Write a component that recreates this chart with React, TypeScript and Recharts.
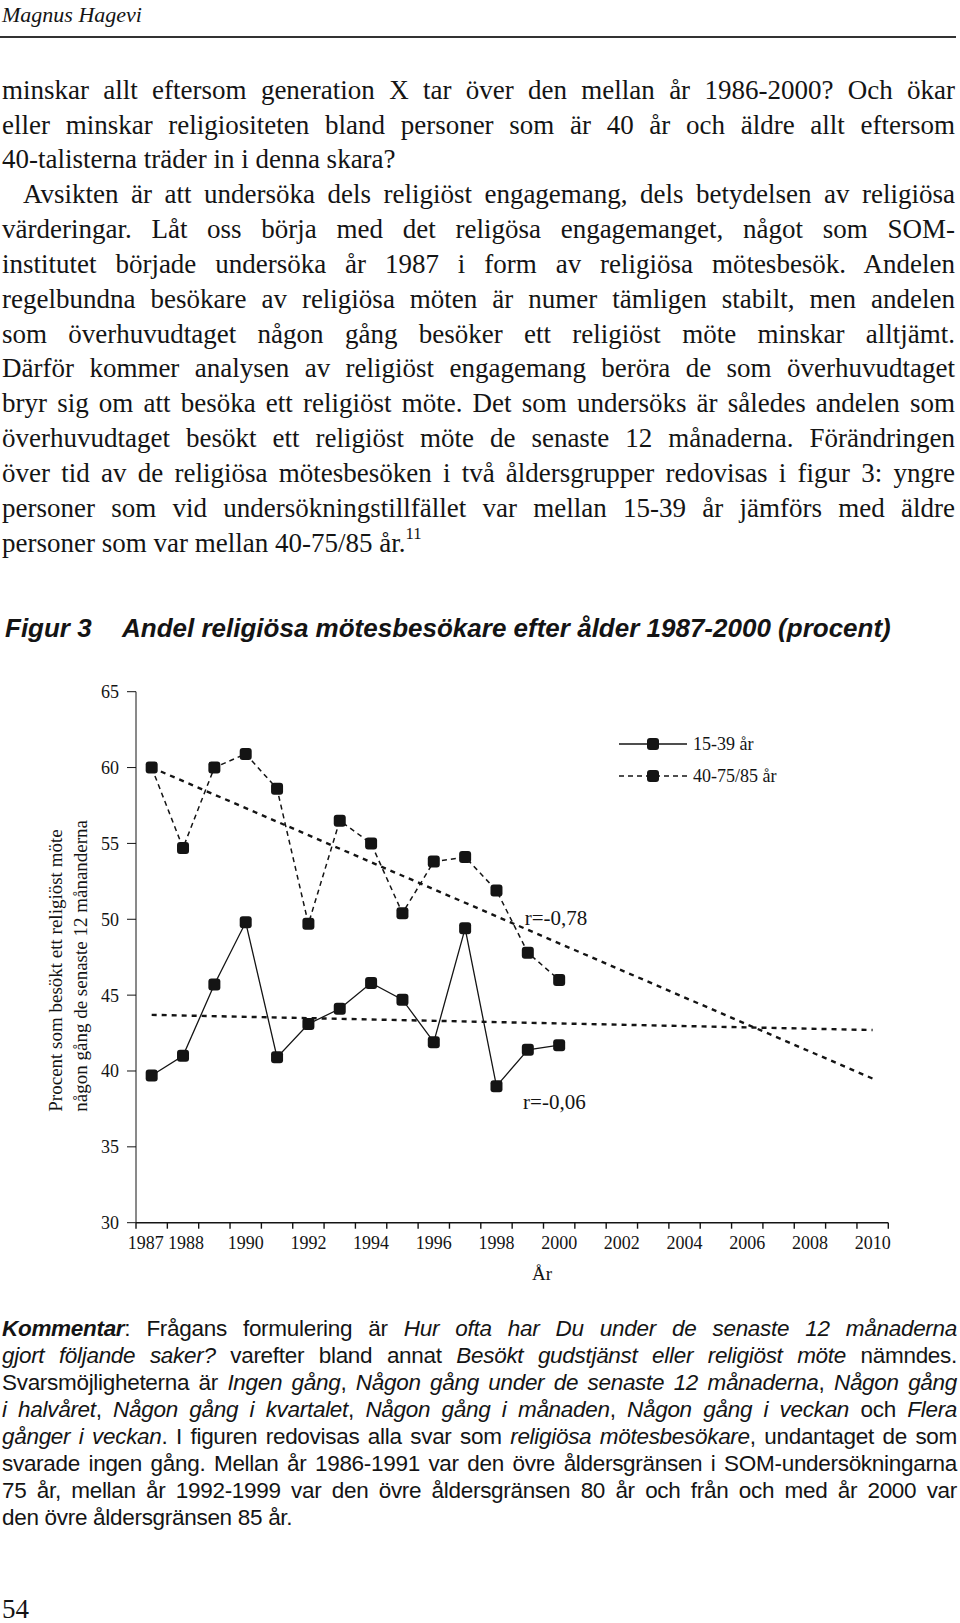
import { LineChart, Line, XAxis, YAxis, Legend, ReferenceDot } from 'recharts';

// survey years and shares (percent)
const years = [1987, 1988, 1989, 1990, 1991, 1992, 1993, 1994, 1995, 1996, 1997, 1998, 1999, 2000];
const young = [39.7, 41.0, 45.7, 49.8, 40.9, 43.1, 44.1, 45.8, 44.7, 41.9, 49.4, 39.0, 41.4, 41.7];
const older = [60.0, 54.7, 60.0, 60.9, 58.6, 49.7, 56.5, 55.0, 50.4, 53.8, 54.1, 51.9, 47.8, 46.0];

// linear trends, drawn from 1987 out to 2010
const trendYears = [1987, 2010];
const youngTrend = [43.7, 42.7];
const olderTrend = [60.0, 39.5];

const yTicks = [30, 35, 40, 45, 50, 55, 60, 65];
const xLabelYears = [1987, 1988, 1990, 1992, 1994, 1996, 1998, 2000, 2002, 2004, 2006, 2008, 2010];
const xTickMarks = [
  1986.5, 1987.5, 1988.5, 1989.5, 1990.5, 1991.5, 1992.5, 1993.5, 1994.5, 1995.5, 1996.5, 1997.5,
  1998.5, 1999.5, 2000.5, 2001.5, 2002.5, 2003.5, 2004.5, 2005.5, 2006.5, 2007.5, 2008.5, 2009.5, 2010.5,
];

const rows = years.map((year, i) => ({ year, young: young[i], older: older[i] }));
const youngTrendRows = trendYears.map((year, i) => ({ year, youngTrend: youngTrend[i] }));
const olderTrendRows = trendYears.map((year, i) => ({ year, olderTrend: olderTrend[i] }));

const serif = '"Liberation Serif", "Times New Roman", serif';
const sans = '"Liberation Sans", Arial, Helvetica, sans-serif';
const ink = '#141414';

const CHART_W = 960;
const CHART_H = 650;
const MARGIN = { top: 41.7, right: 71.7, bottom: 17.3, left: 0 };
const X_AXIS_H = 60;
const AXIS_Y = CHART_H - MARGIN.bottom - X_AXIS_H;

// the first two labels sit a little apart in the original
const labelNudge: Record<number, number> = { 1987: -6, 1988: 3 };

function Square(props: any) {
  const { cx, cy, index } = props;
  if (cx == null || cy == null) return <g key={index} />;
  return <rect key={index} x={cx - 6} y={cy - 6} width={12} height={12} rx={3} fill={ink} />;
}

function XTick(props: any) {
  const { x, payload } = props;
  const v = payload.value;
  if (!Number.isInteger(v)) {
    return <line x1={x} x2={x} y1={AXIS_Y} y2={AXIS_Y + 6} stroke={ink} strokeWidth={1.4} />;
  }
  return (
    <text
      x={x + (labelNudge[v] || 0)}
      y={AXIS_Y + 13.6}
      dy="0.71em"
      textAnchor="middle"
      fontFamily={serif}
      fontSize={18}
      fill={ink}
    >
      {v}
    </text>
  );
}

function YTitle(props: any) {
  const vb = props.viewBox || {};
  const y0 = vb.y + vb.height - 111;
  const common = { fontFamily: serif, fontSize: 19, fill: ink, textAnchor: 'start' as const };
  return (
    <g>
      <text {...common} x={55} y={y0} dy="0.35em" transform={`rotate(-90, 55, ${y0})`}>
        Procent som besökt ett religiöst möte
      </text>
      <text {...common} x={80} y={y0} dy="0.35em" transform={`rotate(-90, 80, ${y0})`}>
        någon gång de senaste 12 månanderna
      </text>
    </g>
  );
}

function LegendBox() {
  return (
    <svg width={180} height={54} style={{ display: 'block' }}>
      <line x1={9} y1={10} x2={77} y2={10} stroke={ink} strokeWidth={1.3} />
      <rect x={37} y={4} width={12} height={12} rx={3} fill={ink} />
      <text x={83} y={10} dy="0.35em" fontFamily={serif} fontSize={18} fill={ink}>
        15-39 år
      </text>
      <line x1={9} y1={42} x2={77} y2={42} stroke={ink} strokeWidth={1.6} strokeDasharray="5 4" />
      <rect x={37} y={36} width={12} height={12} rx={3} fill={ink} />
      <text x={83} y={42} dy="0.35em" fontFamily={serif} fontSize={18} fill={ink}>
        40-75/85 år
      </text>
    </svg>
  );
}

function Chart() {
  return (
    <LineChart width={CHART_W} height={CHART_H} data={rows} margin={MARGIN}>
      <XAxis
        dataKey="year"
        type="number"
        domain={[1986.5, 2010.5]}
        allowDataOverflow
        ticks={[...xTickMarks, ...xLabelYears].sort((a, b) => a - b)}
        interval={0}
        height={X_AXIS_H}
        tickLine={false}
        tick={(p: any) => <XTick {...p} />}
        axisLine={{ stroke: ink, strokeWidth: 1.5 }}
        label={{
          value: 'År',
          position: 'insideBottom',
          offset: 2.7,
          dx: 30,
          fontFamily: serif,
          fontSize: 19,
          fill: ink,
        }}
      />
      <YAxis
        type="number"
        domain={[30, 65]}
        ticks={yTicks}
        interval={0}
        width={136}
        tickSize={9}
        tickMargin={8}
        tick={{ fontFamily: serif, fontSize: 18, fill: ink }}
        tickLine={{ stroke: ink, strokeWidth: 1 }}
        axisLine={{ stroke: ink, strokeWidth: 1 }}
        label={{ content: (p: any) => <YTitle {...p} /> }}
      />
      <Legend
        layout="vertical"
        align="center"
        verticalAlign="middle"
        content={() => <LegendBox />}
        wrapperStyle={{ left: 610, top: 83.6, width: 180 }}
      />
      <Line
        data={olderTrendRows}
        dataKey="olderTrend"
        stroke={ink}
        strokeWidth={2.4}
        strokeDasharray="5 5"
        dot={false}
        legendType="none"
        isAnimationActive={false}
      />
      <Line
        data={youngTrendRows}
        dataKey="youngTrend"
        stroke={ink}
        strokeWidth={2.4}
        strokeDasharray="5 5"
        dot={false}
        legendType="none"
        isAnimationActive={false}
      />
      <Line
        dataKey="young"
        name="15-39 år"
        stroke={ink}
        strokeWidth={1.3}
        dot={(p: any) => <Square {...p} />}
        isAnimationActive={false}
      />
      <Line
        dataKey="older"
        name="40-75/85 år"
        stroke={ink}
        strokeWidth={1.5}
        strokeDasharray="5 4"
        dot={(p: any) => <Square {...p} />}
        isAnimationActive={false}
      />
      <ReferenceDot
        x={1998.9}
        y={50.1}
        r={0}
        label={{ value: 'r=-0,78', position: 'right', offset: 0, fontFamily: serif, fontSize: 21, fill: ink }}
      />
      <ReferenceDot
        x={1998.85}
        y={38.0}
        r={0}
        label={{ value: 'r=-0,06', position: 'right', offset: 0, fontFamily: serif, fontSize: 21, fill: ink }}
      />
    </LineChart>
  );
}

const bodyLines: { text: React.ReactNode; last?: boolean; indent?: boolean }[] = [
  { text: 'minskar allt eftersom generation X tar över den mellan år 1986-2000? Och ökar' },
  { text: 'eller minskar religiositeten bland personer som är 40 år och äldre allt eftersom' },
  { text: '40-talisterna träder in i denna skara?', last: true },
  { text: 'Avsikten är att undersöka dels religiöst engagemang, dels betydelsen av religiösa', indent: true },
  { text: 'värderingar. Låt oss börja med det religösa engagemanget, något som SOM-' },
  { text: 'institutet började undersöka år 1987 i form av religiösa mötesbesök. Andelen' },
  { text: 'regelbundna besökare av religiösa möten är numer tämligen stabilt, men andelen' },
  { text: 'som överhuvudtaget någon gång besöker ett religiöst möte minskar alltjämt.' },
  { text: 'Därför kommer analysen av religiöst engagemang beröra de som överhuvudtaget' },
  { text: 'bryr sig om att besöka ett religiöst möte. Det som undersöks är således andelen som' },
  { text: 'överhuvudtaget besökt ett religiöst möte de senaste 12 månaderna. Förändringen' },
  { text: 'över tid av de religiösa mötesbesöken i två åldersgrupper redovisas i figur 3: yngre' },
  { text: 'personer som vid undersökningstillfället var mellan 15-39 år jämförs med äldre' },
  {
    text: (
      <>
        personer som var mellan 40-75/85 år.
        <span style={{ fontSize: '0.62em', position: 'relative', top: '-0.75em', lineHeight: 0 }}>11</span>
      </>
    ),
    last: true,
  },
];

const noteLines: { text: React.ReactNode; last?: boolean }[] = [
  {
    text: (
      <>
        <b>
          <i>Kommentar</i>
        </b>
        : Frågans formulering är <i>Hur ofta har Du under de senaste 12 månaderna</i>
      </>
    ),
  },
  {
    text: (
      <>
        <i>gjort följande saker?</i> varefter bland annat <i>Besökt gudstjänst eller religiöst möte</i> nämndes.
      </>
    ),
  },
  {
    text: (
      <>
        Svarsmöjligheterna är <i>Ingen gång</i>, <i>Någon gång under de senaste 12 månaderna</i>, <i>Någon gång</i>
      </>
    ),
  },
  {
    text: (
      <>
        <i>i halvåret</i>, <i>Någon gång i kvartalet</i>, <i>Någon gång i månaden</i>, <i>Någon gång i veckan</i> och{' '}
        <i>Flera</i>
      </>
    ),
  },
  {
    text: (
      <>
        <i>gånger i veckan</i>. I figuren redovisas alla svar som <i>religiösa mötesbesökare</i>, undantaget de som
      </>
    ),
  },
  { text: 'svarade ingen gång. Mellan år 1986-1991 var den övre åldersgränsen i SOM-undersökningarna' },
  { text: '75 år, mellan år 1992-1999 var den övre åldersgränsen 80 år och från och med år 2000 var' },
  { text: 'den övre åldersgränsen 85 år.', last: true },
];

export default function App() {
  return (
    <div style={{ position: 'relative', width: 960, height: 1623, background: '#fff', color: ink, overflow: 'hidden' }}>
      <style>{'body{margin:0;background:#fff}'}</style>

      <div style={{ position: 'absolute', left: 2, top: 2, fontFamily: serif, fontStyle: 'italic', fontSize: 22, lineHeight: '26px' }}>
        Magnus Hagevi
      </div>
      <div style={{ position: 'absolute', left: 0, top: 36, width: 956, height: 2, background: '#333' }} />

      <div style={{ position: 'absolute', left: 2, top: 72.8, width: 953, fontFamily: serif, fontSize: 27, lineHeight: '34.84px' }}>
        {bodyLines.map((l, i) => (
          <div
            key={i}
            style={{
              height: 34.84,
              overflow: 'visible',
              textAlign: l.last ? 'left' : 'justify',
              textAlignLast: l.last ? 'left' : 'justify',
              textIndent: l.indent ? 21 : 0,
            }}
          >
            {l.text}
          </div>
        ))}
      </div>

      <div
        style={{
          position: 'absolute',
          left: 5,
          top: 613,
          fontFamily: sans,
          fontWeight: 'bold',
          fontStyle: 'italic',
          fontSize: 26,
          lineHeight: '30px',
          whiteSpace: 'nowrap',
        }}
      >
        Figur 3
        <span style={{ position: 'absolute', left: 117 }}>Andel religiösa mötesbesökare efter ålder 1987-2000 (procent)</span>
      </div>

      <div style={{ position: 'absolute', left: 0, top: 650 }}>
        <Chart />
      </div>

      <div
        style={{
          position: 'absolute',
          left: 2,
          top: 1316,
          width: 955,
          fontFamily: sans,
          fontSize: 22.5,
          letterSpacing: -0.3,
          lineHeight: '26.94px',
        }}
      >
        {noteLines.map((l, i) => (
          <div
            key={i}
            style={{
              height: 26.94,
              textAlign: l.last ? 'left' : 'justify',
              textAlignLast: l.last ? 'left' : 'justify',
            }}
          >
            {l.text}
          </div>
        ))}
      </div>

      <div style={{ position: 'absolute', left: 2, top: 1592, fontFamily: serif, fontSize: 27, lineHeight: '34px' }}>54</div>
    </div>
  );
}
